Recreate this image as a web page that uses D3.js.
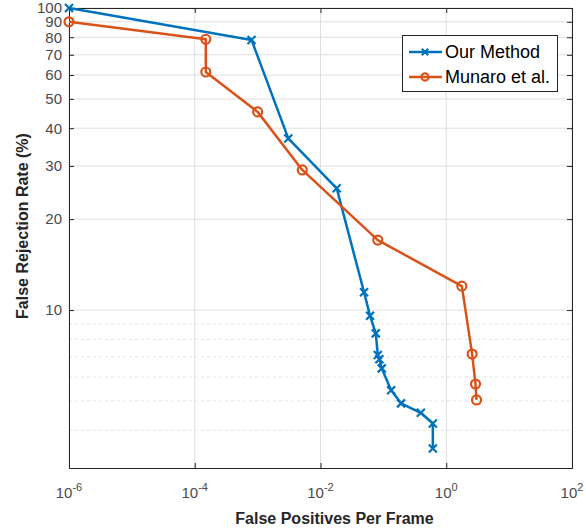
<!DOCTYPE html>
<html>
<head>
<meta charset="utf-8">
<script src="https://cdn.jsdelivr.net/npm/d3@7"></script>
<style>
  body { margin: 0; background: #fff; }
  text { font-family: "Liberation Sans", Arial, sans-serif; }
</style>
</head>
<body>
<svg width="586" height="532"></svg>
<script>
// datos
var seriesNames = ["Our Method", "Munaro et al."];
var seriesColors = ["#0072BD", "#D95319"];

var ourFppf = [1e-6, 8.0e-4, 3.07e-3, 0.0181, 0.0493, 0.0614, 0.0757, 0.0815, 0.0863, 0.0943, 0.133, 0.191, 0.394, 0.612, 0.612];
var ourFrr  = [100, 78.4, 37.0, 25.3, 11.45, 9.57, 8.37, 7.10, 6.87, 6.41, 5.43, 4.91, 4.57, 4.21, 3.48];

var munaroFppf = [1e-6, 1.5e-4, 1.5e-4, 1.0e-3, 5.13e-3, 0.0815, 1.77, 2.58, 2.92, 3.03];
var munaroFrr  = [90.0, 78.8, 61.4, 45.3, 29.1, 17.05, 12.0, 7.15, 5.69, 5.04];

var xTicks = [1e-6, 1e-4, 1e-2, 1e0, 1e2];
var xTickExp = ["-6", "-4", "-2", "0", "2"];
var yTicks = [10, 20, 30, 40, 50, 60, 70, 80, 90, 100];
var yMinor = [4, 5, 6, 7, 8, 9];

var xLabel = "False Positives Per Frame";
var yLabel = "False Rejection Rate (%)";

function dibujar() {
  var svg = d3.select("svg"),
    margin = {top: 8, right: 14, bottom: 64, left: 69},
    width = +svg.attr("width") - margin.left - margin.right,
    height = +svg.attr("height") - margin.top - margin.bottom,
    g = svg.append("g").attr("transform", "translate(" + margin.left + "," + margin.top + ")");

  var x = d3.scaleLog().domain([1e-6, 1e2]).range([0, width]),
    y = d3.scaleLog().domain([3, 100]).range([height, 0]);

  var axisColor = "#262626";

  // rejilla
  g.selectAll(".gridx").data(xTicks).enter().append("line")
    .attr("x1", function(d) { return x(d); })
    .attr("x2", function(d) { return x(d); })
    .attr("y1", 0).attr("y2", height)
    .attr("stroke", "#dedede").attr("stroke-width", 1);

  g.selectAll(".gridy").data(yTicks).enter().append("line")
    .attr("x1", 0).attr("x2", width)
    .attr("y1", function(d) { return y(d); })
    .attr("y2", function(d) { return y(d); })
    .attr("stroke", "#dedede").attr("stroke-width", 1);

  g.selectAll(".gridminor").data(yMinor).enter().append("line")
    .attr("x1", 0).attr("x2", width)
    .attr("y1", function(d) { return y(d); })
    .attr("y2", function(d) { return y(d); })
    .attr("stroke", "#e2e2e2").attr("stroke-width", 1)
    .attr("stroke-dasharray", "3,3");

  // ejes
  g.append("g")
    .attr("transform", "translate(0," + height + ")")
    .call(d3.axisBottom(x).tickValues(xTicks).tickSize(-5).tickFormat(""));
  var ay = g.append("g")
    .call(d3.axisLeft(y).tickValues(yTicks).tickSize(-5).tickPadding(7).tickFormat(d3.format("d")));
  g.append("g")
    .call(d3.axisTop(x).tickValues(xTicks).tickSize(-5).tickFormat(""));
  g.append("g")
    .attr("transform", "translate(" + width + ",0)")
    .call(d3.axisRight(y).tickValues(yTicks).tickSize(-5).tickFormat(""));

  g.selectAll(".domain").attr("stroke", axisColor);
  g.selectAll(".tick line").attr("stroke", axisColor);
  ay.selectAll("text")
    .attr("fill", "#4a4a4a")
    .style("font-size", "15px");

  // etiquetas 10^n
  var xl = g.selectAll(".xlab").data(xTicks).enter().append("text")
    .attr("x", function(d) { return x(d); })
    .attr("y", height + 30)
    .attr("text-anchor", "middle")
    .attr("fill", "#4a4a4a")
    .style("font-size", "15px");
  xl.append("tspan").text("10");
  xl.append("tspan")
    .attr("dy", -7)
    .style("font-size", "11px")
    .text(function(d, i) { return xTickExp[i]; });

  // titulos
  g.append("text")
    .attr("x", width / 2 + 14)
    .attr("y", height + 56)
    .attr("text-anchor", "middle")
    .attr("fill", "#262626")
    .style("font-size", "16px")
    .style("font-weight", "bold")
    .text(xLabel);

  g.append("text")
    .attr("transform", "translate(" + (-41) + "," + (height / 2 - 12) + ") rotate(-90)")
    .attr("text-anchor", "middle")
    .attr("fill", "#262626")
    .style("font-size", "16px")
    .style("font-weight", "bold")
    .text(yLabel);

  var line = d3.line()
    .x(function(d) { return x(d[0]); })
    .y(function(d) { return y(d[1]); });

  var datos = [
    d3.zip(ourFppf, ourFrr),
    d3.zip(munaroFppf, munaroFrr)
  ];

  datos.forEach(function(pts, i) {
    var color = seriesColors[i];
    g.append("path")
      .datum(pts)
      .attr("fill", "none")
      .attr("stroke", color)
      .attr("stroke-width", 2.5)
      .attr("stroke-linejoin", "round")
      .attr("d", line);

    pts.forEach(function(p) {
      marcador(g, x(p[0]), y(p[1]), i, color, 1);
    });
  });

  // leyenda
  var leg = svg.append("g");
  leg.append("rect")
    .attr("x", 402.5).attr("y", 35.5)
    .attr("width", 155).attr("height", 56)
    .attr("fill", "#fff")
    .attr("stroke", axisColor);

  seriesNames.forEach(function(nombre, i) {
    var yy = 52 + i * 25;
    leg.append("line")
      .attr("x1", 409).attr("x2", 442)
      .attr("y1", yy).attr("y2", yy)
      .attr("stroke", seriesColors[i])
      .attr("stroke-width", 2.5);
    marcador(leg, 425, yy, i, seriesColors[i], 0.8);
    leg.append("text")
      .attr("x", 445)
      .attr("y", yy)
      .attr("dy", "0.35em")
      .attr("fill", "#000")
      .style("font-size", "18px")
      .text(nombre);
  });
}

function marcador(sel, cx, cy, tipo, color, k) {
  if (tipo === 0) {
    var s = 4 * k;
    sel.append("path")
      .attr("d", "M" + (cx - s) + "," + (cy - s) + "L" + (cx + s) + "," + (cy + s) +
        "M" + (cx - s) + "," + (cy + s) + "L" + (cx + s) + "," + (cy - s))
      .attr("stroke", color)
      .attr("stroke-width", 2.2)
      .attr("fill", "none");
  } else {
    sel.append("circle")
      .attr("cx", cx).attr("cy", cy)
      .attr("r", 4.5 * k)
      .attr("fill", "none")
      .attr("stroke", color)
      .attr("stroke-width", 2.2);
  }
}

dibujar();
</script>
</body>
</html>
